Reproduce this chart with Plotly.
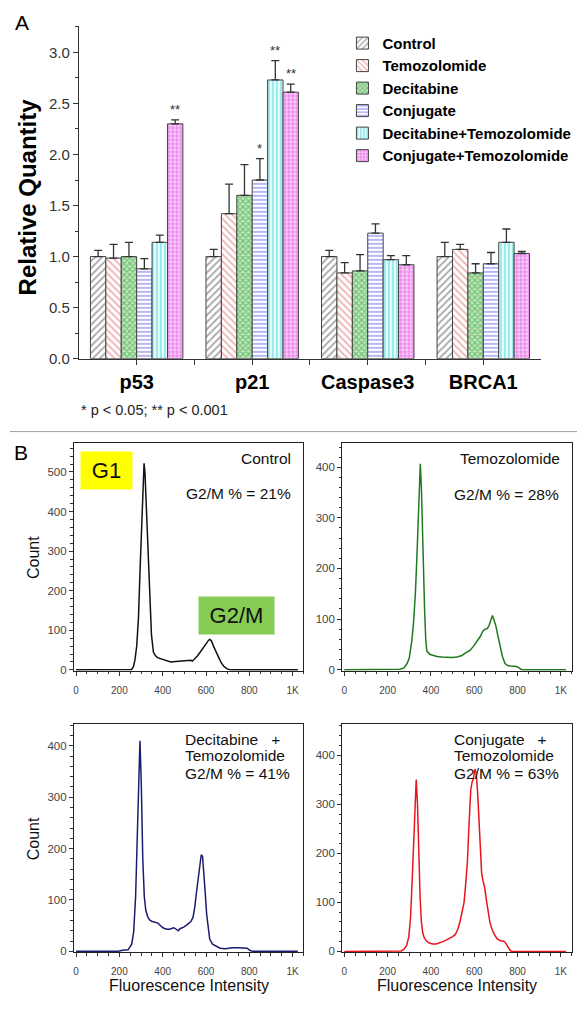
import plotly.graph_objects as go

# The page body adds an 8px margin, so the figure is made 8px smaller on each
# side and every reference pixel position is shifted by that offset.
W, H = 586, 1015
OFF = 8
FW, FH = W - OFF, H - 2 * OFF
FONT = "Arial, 'Liberation Sans', sans-serif"

# ---------------- Panel A data ----------------
genes = ["p53", "p21", "Caspase3", "BRCA1"]
series_names = ["Control", "Temozolomide", "Decitabine", "Conjugate",
                "Decitabine+Temozolomide", "Conjugate+Temozolomide"]
control_vals = [1.00, 1.00, 1.00, 1.00]
control_err = [0.06, 0.07, 0.06, 0.14]
temoz_vals = [0.985, 1.42, 0.84, 1.07]
temoz_err = [0.135, 0.29, 0.10, 0.05]
decit_vals = [1.00, 1.60, 0.86, 0.84]
decit_err = [0.14, 0.30, 0.16, 0.09]
conj_vals = [0.88, 1.75, 1.23, 0.93]
conj_err = [0.10, 0.21, 0.09, 0.11]
dectem_vals = [1.14, 2.73, 0.97, 1.14]
dectem_err = [0.07, 0.19, 0.04, 0.13]
conjtem_vals = [2.30, 2.61, 0.92, 1.03]
conjtem_err = [0.04, 0.08, 0.09, 0.02]
control_sig = ["", "", "", ""]
temoz_sig = ["", "", "", ""]
decit_sig = ["", "", "", ""]
conj_sig = ["", "*", "", ""]
dectem_sig = ["", "**", "", ""]
conjtem_sig = ["**", "**", "", ""]

# ---------------- Panel B data ----------------
hist_ticks = [0, 200, 400, 600, 800, 1000]
hist_ticktext = ["0", "200", "400", "600", "800", "1K"]

ctrl_x = [0, 240, 256, 265, 272, 280, 288, 296, 304, 310, 314, 318, 324, 332, 340, 348, 357, 366, 376, 390,
          406, 420, 437, 460, 483, 505, 521, 530, 537, 548, 560, 572, 583, 600, 612, 617, 624, 636, 648, 659,
          670, 682, 695, 713, 1024]
ctrl_y = [0, 0, 1, 8, 25, 60, 130, 260, 400, 490, 522, 500, 420, 300, 180, 90, 45, 36, 31, 28,
          25, 22, 20, 21, 22, 24, 25, 24, 22, 28, 35, 44, 53, 66, 75, 77, 74, 58, 42, 31,
          18, 9, 3, 0, 0]

tmz_x = [0, 240, 256, 274, 290, 300, 312, 320, 328, 335, 340, 346, 351, 356, 361, 366, 371, 376, 381, 388,
         397, 412, 428, 450, 474, 497, 520, 543, 560, 566, 580, 596, 612, 627, 640, 650, 660, 669, 677, 684,
         690, 700, 710, 719, 730, 742, 755, 765, 780, 796, 805, 819, 1024]
tmz_y = [0, 0, 1, 3, 12, 23, 58, 95, 149, 220, 290, 360, 407, 360, 255, 180, 114, 60, 37, 33,
         30, 28, 26, 25, 24, 24, 25, 28, 33, 35, 38, 46, 55, 65, 76, 80, 81, 88, 98, 107,
         100, 86, 65, 44, 26, 12, 8, 7, 7, 6, 4, 0, 0]

dt_x = [0, 195, 215, 240, 257, 266, 275, 282, 288, 295, 301, 308, 315, 322, 332, 342, 352, 362, 378, 395,
        405, 420, 432, 444, 452, 462, 472, 480, 497, 513, 530, 540, 548, 556, 564, 571, 578, 584, 590, 597,
        603, 610, 617, 630, 645, 665, 690, 720, 750, 770, 790, 802, 815, 1024]
dt_y = [0, 0, 2, 3, 14, 38, 107, 220, 340, 410, 330, 180, 107, 80, 66, 60, 58, 57, 55, 48,
        45, 43, 43, 45, 46, 43, 40, 44, 47, 52, 58, 66, 86, 115, 141, 170, 188, 185, 155, 110,
        72, 40, 24, 14, 10, 6, 5, 7, 7, 7, 6, 2, 0, 0]

ct_x = [0, 250, 262, 275, 288, 298, 306, 313, 320, 326, 332, 338, 344, 350, 356, 362, 370, 380, 392, 408,
        425, 440, 455, 470, 485, 500, 512, 524, 535, 545, 553, 560, 568, 576, 584, 590, 596, 604, 610, 616,
        622, 628, 634, 640, 648, 656, 664, 672, 682, 692, 705, 718, 730, 740, 748, 756, 764, 772, 1024]
ct_y = [0, 0, 1, 4, 12, 30, 70, 140, 230, 310, 350, 300, 200, 110, 60, 38, 27, 21, 17, 15,
        15, 17, 20, 23, 26, 30, 34, 45, 62, 80, 100, 135, 180, 260, 330, 345, 352, 372, 360, 320,
        260, 200, 160, 145, 130, 105, 80, 60, 45, 35, 26, 22, 21, 20, 15, 8, 3, 0, 0]

# ---------------- helpers ----------------
def px_x(p):
    return (p - OFF) / FW

def px_y(p):
    return 1 - (p - OFF) / FH

fig = go.Figure()

series = [
    (series_names[0], control_vals, control_err, control_sig, dict(shape="/", fgcolor="#505050", bgcolor="white", size=5, solidity=0.35)),
    (series_names[1], temoz_vals, temoz_err, temoz_sig, dict(shape="\\", fgcolor="#e06868", bgcolor="white", size=5, solidity=0.35)),
    (series_names[2], decit_vals, decit_err, decit_sig, dict(shape="x", fgcolor="#2f9a2f", bgcolor="#bfe8bf", size=4, solidity=0.55)),
    (series_names[3], conj_vals, conj_err, conj_sig, dict(shape="-", fgcolor="#4a4ae0", bgcolor="white", size=4, solidity=0.4)),
    (series_names[4], dectem_vals, dectem_err, dectem_sig, dict(shape="|", fgcolor="#30c4c4", bgcolor="#e4ffff", size=4, solidity=0.4)),
    (series_names[5], conjtem_vals, conjtem_err, conjtem_sig, dict(shape="+", fgcolor="#e030e0", bgcolor="#f8d0f8", size=4, solidity=0.5)),
]

xpos = list(range(len(genes)))
group_width = 0.8
nser = len(series)
bw = group_width / nser
annotations = []

for i, (name, vals, err, sig, pat) in enumerate(series):
    fig.add_trace(go.Bar(
        x=xpos, y=vals, name=name,
        marker=dict(color="white", pattern=pat, line=dict(color="#444444", width=1)),
        error_y=dict(type="data", array=err, arrayminus=[0] * len(err), symmetric=False,
                     color="#333333", thickness=1.3, width=4),
        xaxis="x", yaxis="y",
    ))
    for g, s in enumerate(sig):
        if s:
            annotations.append(dict(
                x=g + (i - (nser - 1) / 2) * bw, y=vals[g] + err[g], xref="x", yref="y",
                text=s, showarrow=False, yanchor="bottom", yshift=1,
                font=dict(size=13, color="#333333", family=FONT)))

hists = [
    (ctrl_x, ctrl_y, "#111111", "x2", "y2"),
    (tmz_x, tmz_y, "#1f7a1f", "x3", "y3"),
    (dt_x, dt_y, "#1c1c6e", "x4", "y4"),
    (ct_x, ct_y, "#e8141c", "x5", "y5"),
]
for hx, hy, col, xa, ya in hists:
    fig.add_trace(go.Scatter(x=hx, y=hy, mode="lines", line=dict(color=col, width=1.5),
                             showlegend=False, xaxis=xa, yaxis=ya, hoverinfo="skip"))

# ---------------- axes ----------------
bar_x_dom = [px_x(78), px_x(541)]
bar_y_dom = [px_y(361.5), px_y(26)]

layout = dict(
    width=FW, height=FH, margin=dict(l=0, r=0, t=0, b=0),
    paper_bgcolor="white", plot_bgcolor="white",
    font=dict(family=FONT, color="#222222"),
    barmode="group", bargap=0.2, bargroupgap=0,
    showlegend=True,
    legend=dict(x=px_x(342), y=px_y(27), xanchor="left", yanchor="top",
                font=dict(size=15, family=FONT, color="black", weight="bold"),
                bgcolor="rgba(0,0,0,0)", itemwidth=30, tracegroupgap=0),
    xaxis=dict(domain=bar_x_dom, anchor="y", range=[-0.5, 3.5], tickvals=xpos, ticktext=genes,
               ticks="outside", ticklen=5, tickcolor="#333", showline=True, linecolor="#333", linewidth=1.2,
               showgrid=False, zeroline=False,
               tickfont=dict(size=20, family=FONT, color="black", weight="bold"),
               minor=dict(tickvals=[0.5, 1.5, 2.5], ticks="outside", ticklen=5, tickcolor="#333")),
    yaxis=dict(domain=bar_y_dom, anchor="x", range=[0, 3.26], dtick=0.5, tick0=0, tickformat=".1f",
               ticks="outside", ticklen=5, tickcolor="#333", showline=True, linecolor="#333", linewidth=1.2,
               showgrid=False, zeroline=False,
               tickfont=dict(size=15, family=FONT, color="#333"),
               minor=dict(dtick=0.25, tick0=0, ticks="outside", ticklen=3, tickcolor="#333")),
)

hist_boxes = {
    2: ([73, 303], [447, 676], [-2, 572]),
    3: ([341.7, 571.7], [447, 676], [-2, 447]),
    4: ([73, 303], [730, 960], [-2, 442]),
    5: ([341.7, 571.7], [730, 960], [-2, 463]),
}
for k, (xb, yb, yr) in hist_boxes.items():
    layout[f"xaxis{k}"] = dict(
        domain=[px_x(xb[0]), px_x(xb[1])], anchor=f"y{k}", range=[-10, 1050],
        tickvals=hist_ticks, ticktext=hist_ticktext, ticks="outside", ticklen=4, tickcolor="#333",
        ticklabelstandoff=6,
        showline=True, mirror=True, linecolor="#222", linewidth=1, showgrid=False, zeroline=False,
        tickfont=dict(size=10, family=FONT, color="#444"),
        minor=dict(dtick=50, tick0=0, ticks="outside", ticklen=2.5, tickcolor="#333"))
    layout[f"yaxis{k}"] = dict(
        domain=[px_y(yb[1]), px_y(yb[0])], anchor=f"x{k}", range=yr, dtick=100, tick0=0,
        ticks="outside", ticklen=4, tickcolor="#333",
        showline=True, mirror=True, linecolor="#222", linewidth=1, showgrid=False, zeroline=False,
        tickfont=dict(size=11.5, family=FONT, color="#444"),
        minor=dict(dtick=20, tick0=0, ticks="outside", ticklen=2.5, tickcolor="#333"))

def ann(text, x, y, size=15.5, xanchor="center", yanchor="middle", **kw):
    d = dict(text=text, x=px_x(x), y=px_y(y), xref="paper", yref="paper", showarrow=False,
             xanchor=xanchor, yanchor=yanchor, font=dict(size=size, family=FONT, color=kw.pop("color", "#111")))
    d.update(kw)
    return d

nb = "\u00a0"
annotations += [
    ann("A", 21.5, 22.5, size=21, color="black"),
    ann("B", 20.5, 456.5, size=21, color="black"),
    ann("<b>Relative Quantity</b>", 27, 198, size=24, textangle=-90, color="black"),
    ann("* p < 0.05; ** p < 0.001", 78, 413, size=14.5, xanchor="left", color="#222"),
    ann("Count", 32, 561.5, size=16, textangle=-90),
    ann("Count", 32, 845, size=16, textangle=-90),
    ann("Fluorescence Intensity", 188, 993, size=16),
    ann("Fluorescence Intensity", 456.7, 993, size=16),
    ann("Control", 292, 461.7, xanchor="right"),
    ann("G2/M % = 21%", 292, 497.3, xanchor="right"),
    ann("Temozolomide", 562, 461.7, xanchor="right"),
    ann("G2/M % = 28%", 561, 498, xanchor="right"),
    ann("Decitabine" + nb * 3 + "+", 182.7, 745, xanchor="left"),
    ann("Temozolomide", 182.7, 762, xanchor="left"),
    ann("G2/M % = 41%", 182.7, 780, xanchor="left"),
    ann("Conjugate" + nb * 3 + "+", 451.7, 745, xanchor="left"),
    ann("Temozolomide", 451.7, 762, xanchor="left"),
    ann("G2/M % = 63%", 451.7, 780, xanchor="left"),
    ann("G1", 105.5, 474, size=22, bgcolor="#ffff00", width=51, height=37, borderpad=0, color="#111"),
    ann("G2/M", 235.5, 620.3, size=22, bgcolor="#86cc55", width=75, height=37, borderpad=0, color="#111"),
]
layout["annotations"] = annotations
layout["shapes"] = [dict(type="line", xref="paper", yref="paper", x0=px_x(9), x1=px_x(577),
                         y0=px_y(435), y1=px_y(435), line=dict(color="#a0a0a0", width=1))]

fig.update_layout(**layout)
fig.write_html("out.html")
